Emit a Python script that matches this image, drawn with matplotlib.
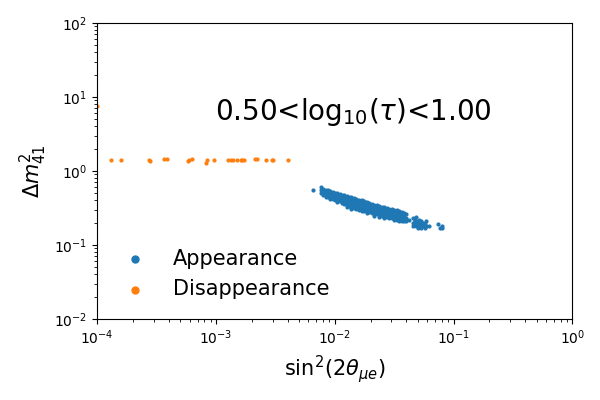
import numpy as np
import matplotlib
matplotlib.use('Agg')
import matplotlib.pyplot as plt

# appearance points (sin^2 2theta_mue, dm2_41)
app_x = [0.0066,
         0.0076, 0.0076, 0.0076,
         0.0080, 0.0080, 0.0080,
         0.0084, 0.0084, 0.0084, 0.0084,
         0.0088, 0.0088, 0.0088, 0.0088,
         0.0092, 0.0092, 0.0092, 0.0092,
         0.0096, 0.0096, 0.0096, 0.0096,
         0.0100, 0.0100, 0.0100, 0.0100, 0.0100,
         0.0105, 0.0105, 0.0105, 0.0105, 0.0105,
         0.0110, 0.0110, 0.0110, 0.0110, 0.0110,
         0.0115, 0.0115, 0.0115, 0.0115, 0.0115,
         0.0120, 0.0120, 0.0120, 0.0120, 0.0120,
         0.0126, 0.0126, 0.0126, 0.0126, 0.0126, 0.0126,
         0.0132, 0.0132, 0.0132, 0.0132, 0.0132,
         0.0138, 0.0138, 0.0138, 0.0138, 0.0138, 0.0138,
         0.0145, 0.0145, 0.0145, 0.0145, 0.0145,
         0.0152, 0.0152, 0.0152, 0.0152, 0.0152, 0.0152,
         0.0160, 0.0160, 0.0160, 0.0160, 0.0160, 0.0160,
         0.0168, 0.0168, 0.0168, 0.0168, 0.0168, 0.0168,
         0.0176, 0.0176, 0.0176, 0.0176, 0.0176, 0.0176,
         0.0185, 0.0185, 0.0185, 0.0185, 0.0185, 0.0185,
         0.0194, 0.0194, 0.0194, 0.0194, 0.0194, 0.0194,
         0.0204, 0.0204, 0.0204, 0.0204, 0.0204, 0.0204,
         0.0214, 0.0214, 0.0214, 0.0214, 0.0214, 0.0214,
         0.0225, 0.0225, 0.0225, 0.0225, 0.0225, 0.0225,
         0.0236, 0.0236, 0.0236, 0.0236, 0.0236, 0.0236,
         0.0248, 0.0248, 0.0248, 0.0248, 0.0248, 0.0248,
         0.0260, 0.0260, 0.0260, 0.0260, 0.0260, 0.0260,
         0.0273, 0.0273, 0.0273, 0.0273, 0.0273, 0.0273,
         0.0287, 0.0287, 0.0287, 0.0287, 0.0287, 0.0287,
         0.0301, 0.0301, 0.0301, 0.0301, 0.0301, 0.0301,
         0.0316, 0.0316, 0.0316, 0.0316, 0.0316, 0.0316,
         0.0332, 0.0332, 0.0332, 0.0332, 0.0332, 0.0332,
         0.0349, 0.0349, 0.0349, 0.0349, 0.0349, 0.0349,
         0.0366, 0.0366, 0.0366, 0.0366, 0.0366,
         0.0384, 0.0384, 0.0384, 0.0384, 0.0384,
         0.0400, 0.0400, 0.0400,
         0.0420,
         0.0455, 0.0455, 0.0455,
         0.0470, 0.0470, 0.0470,
         0.0485, 0.0485, 0.0485,
         0.0500, 0.0500, 0.0500,
         0.0515, 0.0515, 0.0515,
         0.0530, 0.0530, 0.0530,
         0.0550, 0.0550,
         0.0570, 0.0570,
         0.0590, 0.0590,
         0.0620,
         0.0740, 0.0770, 0.0800, 0.0800]
app_y = [0.55,
         0.60, 0.55, 0.50,
         0.58, 0.52, 0.47,
         0.56, 0.49, 0.45, 0.52,
         0.55, 0.50, 0.44, 0.47,
         0.53, 0.46, 0.42, 0.50,
         0.52, 0.47, 0.42, 0.44,
         0.51, 0.45, 0.41, 0.48, 0.43,
         0.50, 0.44, 0.40, 0.46, 0.38,
         0.49, 0.43, 0.39, 0.46, 0.41,
         0.48, 0.42, 0.37, 0.45, 0.39,
         0.47, 0.41, 0.36, 0.44, 0.38,
         0.46, 0.40, 0.35, 0.43, 0.37, 0.33,
         0.45, 0.39, 0.34, 0.42, 0.36,
         0.44, 0.38, 0.33, 0.41, 0.35, 0.31,
         0.43, 0.37, 0.32, 0.40, 0.34,
         0.42, 0.36, 0.31, 0.39, 0.33, 0.35,
         0.41, 0.35, 0.30, 0.38, 0.32, 0.34,
         0.40, 0.34, 0.30, 0.37, 0.32, 0.29,
         0.39, 0.34, 0.29, 0.36, 0.31, 0.33,
         0.38, 0.33, 0.29, 0.35, 0.31, 0.27,
         0.37, 0.32, 0.28, 0.35, 0.30, 0.34,
         0.36, 0.31, 0.27, 0.34, 0.29, 0.33,
         0.35, 0.31, 0.27, 0.33, 0.29, 0.25,
         0.35, 0.30, 0.26, 0.33, 0.28, 0.32,
         0.34, 0.29, 0.26, 0.32, 0.28, 0.24,
         0.33, 0.29, 0.25, 0.31, 0.27, 0.30,
         0.33, 0.28, 0.25, 0.31, 0.27, 0.23,
         0.32, 0.28, 0.24, 0.30, 0.26, 0.29,
         0.31, 0.27, 0.24, 0.29, 0.26, 0.23,
         0.31, 0.27, 0.23, 0.29, 0.25, 0.28,
         0.30, 0.26, 0.23, 0.28, 0.25, 0.22,
         0.30, 0.26, 0.22, 0.28, 0.24, 0.27,
         0.29, 0.25, 0.22, 0.27, 0.24, 0.21,
         0.28, 0.25, 0.21, 0.26, 0.23,
         0.27, 0.24, 0.21, 0.26, 0.23,
         0.26, 0.23, 0.21,
         0.22,
         0.23, 0.20, 0.18,
         0.22, 0.19, 0.21,
         0.24, 0.20, 0.18,
         0.21, 0.19, 0.17,
         0.22, 0.18, 0.20,
         0.19, 0.17, 0.21,
         0.20, 0.18,
         0.19, 0.17,
         0.21, 0.18,
         0.18,
         0.19, 0.17, 0.17, 0.18]

# disappearance points
dis_x = [1.0e-4, 1.31e-4, 1.58e-4, 2.74e-4, 2.79e-4, 3.66e-4, 3.86e-4, 5.81e-4, 5.98e-4,
         6.27e-4, 8.16e-4, 8.39e-4, 9.67e-4, 1.25e-3, 1.35e-3, 1.39e-3, 1.50e-3, 1.62e-3,
         1.66e-3, 1.73e-3, 2.11e-3, 2.21e-3, 2.64e-3, 2.96e-3, 3.02e-3, 4.06e-3]
dis_y = [7.6, 1.41, 1.41, 1.39, 1.38, 1.44, 1.46, 1.38, 1.41,
         1.47, 1.30, 1.39, 1.41, 1.40, 1.41, 1.40, 1.39, 1.41,
         1.43, 1.42, 1.46, 1.44, 1.43, 1.42, 1.41, 1.41]

fig = plt.figure(figsize=(6, 4), dpi=100)
ax = fig.add_axes([0.162, 0.2025, 0.792, 0.74])
ax.scatter(app_x, app_y, s=4, color='tab:blue', label='Appearance')
ax.scatter(dis_x, dis_y, s=4, color='tab:orange', label='Disappearance')
ax.set_xscale('log')
ax.set_yscale('log')
ax.set_xlim(1e-4, 1)
ax.set_ylim(1e-2, 1e2)
ax.set_xlabel(r'$\mathrm{sin}^2(2\theta_{\mu e})$', fontsize=15)
ax.set_ylabel(r'$\Delta m^2_{41}$', fontsize=15)
ax.text(0.54, 0.70, r'0.50<log$_{10}$($\tau$)<1.00', transform=ax.transAxes,
        fontsize=20, ha='center', va='center')
ax.legend(loc='lower left', frameon=False, fontsize=15, markerscale=2.5,
          bbox_to_anchor=(-0.003, 0.003))
fig.savefig('out.png', dpi=100)
